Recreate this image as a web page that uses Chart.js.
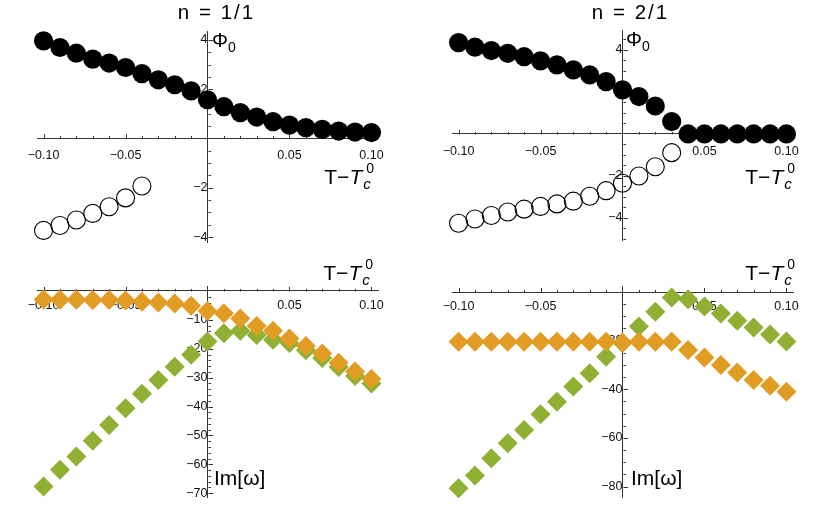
<!DOCTYPE html>
<html><head><meta charset="utf-8">
<script src="https://cdn.jsdelivr.net/npm/chart.js@4.4.1/dist/chart.umd.min.js"></script>
<style>
html,body{margin:0;padding:0;background:#fff;}
#wrap{position:relative;width:830px;height:515px;overflow:hidden;background:#fff;}
#wrap canvas{position:absolute;left:0;top:0;}
</style></head><body>
<div id="wrap">
<canvas id="c1" width="830" height="515"></canvas>
<canvas id="c2" width="830" height="515"></canvas>
<canvas id="c3" width="830" height="515"></canvas>
<canvas id="c4" width="830" height="515"></canvas>
</div>
<script>
// ---------- data ----------
const temps = [-0.10,-0.09,-0.08,-0.07,-0.06,-0.05,-0.04,-0.03,-0.02,-0.01,0,0.01,0.02,0.03,0.04,0.05,0.06,0.07,0.08,0.09,0.10];

// n = 1/1 : order parameter
const phiStableN1 = [3.96,3.69,3.46,3.22,3.06,2.88,2.63,2.38,2.18,1.93,1.57,1.29,1.05,0.87,0.68,0.54,0.44,0.37,0.30,0.26,0.24];
const phiUnstableN1 = [-3.73,-3.53,-3.31,-3.04,-2.77,-2.41,-1.93]; // T = -0.10 .. -0.04

// n = 2/1 : order parameter
const phiStableN2 = [4.35,4.13,3.97,3.84,3.68,3.48,3.29,3.05,2.81,2.49,2.10,1.78,1.33,0.59,0,0,0,0,0,0,0];
const phiUnstableN2 = [-4.25,-4.05,-3.88,-3.72,-3.58,-3.45,-3.33,-3.20,-2.97,-2.70,-2.35,-2.00,-1.56,-0.89]; // T = -0.10 .. 0.03

// n = 1/1 : Im[omega]
const imOrangeN1 = [-2.9,-3.0,-3.0,-3.1,-3.1,-3.3,-3.7,-4.0,-4.3,-5.1,-6.9,-7.7,-9.5,-12.1,-13.8,-16.4,-19.0,-21.6,-24.8,-27.9,-30.5];
const imGreenN1  = [-67.7,-61.9,-57.3,-51.8,-46.4,-40.6,-35.6,-30.8,-26.2,-22.1,-17.5,-14.6,-13.8,-15.2,-16.9,-18.0,-20.5,-23.2,-26.3,-29.4,-32.0];

// n = 2/1 : Im[omega]
const imOrangeN2 = [-20.5,-20.5,-20.5,-20.5,-20.5,-20.5,-20.5,-20.5,-20.5,-20.5,-20.8,-20.5,-20.5,-20.5,-23.8,-26.9,-30.0,-33.1,-36.2,-38.6,-41.0];
const imGreenN2  = [-80.7,-75.5,-68.4,-62.2,-56.7,-50.3,-45.1,-38.9,-33.4,-26.6,-21.0,-14.2,-8.1,-2.3,-3.0,-6.0,-8.8,-11.8,-14.6,-17.5,-20.4];

// tick labels
const xTickLabels = [-0.10,-0.05,0.05,0.10];
const yTicksPhi = [-4,-2,2,4];
const yTicksImN1 = [-70,-60,-50,-40,-30,-20,-10];
const yTicksImN2 = [-80,-60,-40,-20];

const titles = ['n = 1/1','n = 2/1'];

// ---------- helpers ----------
const ORANGE = '#E19C24', GREEN = '#8FB032';
const FONT = '"Liberation Sans", Arial, sans-serif';
const pts = (vals) => vals.map((v,i)=>({x:temps[i], y:v}));
const fmt = (v, d) => (v < 0 ? '\u2212' : '') + Math.abs(v).toFixed(d);

function drawRich(ctx, parts, x, y, align) {
  let cx = 0, maxX = 0, lastStart = 0;
  const placed = [];
  for (const p of parts) {
    ctx.font = (p.it ? 'italic ' : '') + p.s + 'px ' + FONT;
    const w = ctx.measureText(p.t).width;
    let sx = p.stack ? lastStart + (p.dx||0) : cx + (p.dx||0);
    placed.push({p, sx, w});
    if (!p.stack) { lastStart = sx; cx = sx + w; }
    maxX = Math.max(maxX, sx + w);
  }
  const off = align === 'right' ? x - maxX : (align === 'center' ? x - maxX/2 : x);
  ctx.save();
  ctx.fillStyle = '#000';
  ctx.textBaseline = 'alphabetic';
  ctx.textAlign = 'left';
  for (const q of placed) {
    ctx.font = (q.p.it ? 'italic ' : '') + q.p.s + 'px ' + FONT;
    ctx.fillText(q.p.t, off + q.sx, y + (q.p.dy||0));
  }
  ctx.restore();
}

const TT = [{t:'T\u2212',s:21},{t:'T',s:21,it:true},{t:'c',s:15,it:true,dy:5,dx:1},{t:'0',s:14,dy:-11,stack:true,dx:3}];
const PHI = [{t:'\u03A6',s:20},{t:'0',s:14,dy:5,dx:0}];
const IMW = [{t:'Im[\u03C9]',s:21}];

const mmaPlugin = {
  id: 'mma',
  beforeDatasetsDraw(chart, args, o) {
    const ctx = chart.ctx, xs = chart.scales.x, ys = chart.scales.y;
    const x0 = xs.getPixelForValue(0), y0 = ys.getPixelForValue(0);
    ctx.save();
    ctx.strokeStyle = '#333';
    ctx.lineWidth = 1;
    ctx.beginPath();
    const kx = Math.round(o.xMajor / o.xMinor);
    for (let i = Math.ceil(xs.min / o.xMinor - 1e-9); i <= Math.floor(xs.max / o.xMinor + 1e-9); i++) {
      if (i === 0) continue;
      const px = Math.round(xs.getPixelForValue(i * o.xMinor)) + 0.5;
      const len = (i % kx === 0) ? 4.5 : 2.5;
      ctx.moveTo(px, Math.round(y0) + 0.5);
      ctx.lineTo(px, Math.round(y0) + 0.5 - len);
    }
    const ky = Math.round(o.yMajor / o.yMinor);
    for (let i = Math.ceil(ys.min / o.yMinor - 1e-9); i <= Math.floor(ys.max / o.yMinor + 1e-9); i++) {
      if (i === 0) continue;
      const py = Math.round(ys.getPixelForValue(i * o.yMinor)) + 0.5;
      const len = (i % ky === 0) ? 4.5 : 2.5;
      ctx.moveTo(Math.round(x0) + 0.5, py);
      ctx.lineTo(Math.round(x0) + 0.5 + len, py);
    }
    ctx.stroke();
    ctx.restore();
  },
  afterDraw(chart, args, o) {
    const ctx = chart.ctx;
    if (o.title) {
      ctx.save();
      ctx.font = '20.5px ' + FONT;
      ctx.fillStyle = '#000';
      ctx.textAlign = 'center';
      ctx.textBaseline = 'alphabetic';
      try { ctx.letterSpacing = '2px'; } catch(e) {}
      ctx.fillText(o.title, o.titleX, o.titleY);
      ctx.restore();
    }
    for (const l of o.labels) drawRich(ctx, l.parts, l.x, l.y, l.align);
  }
};

function makePanel(id, cfg) {
  const tickFont = {family: FONT, size: 12.5};
  new Chart(document.getElementById(id), {
    type: 'scatter',
    data: { datasets: cfg.datasets },
    options: {
      responsive: false, animation: false, events: [],
      layout: { padding: cfg.pad },
      plugins: {
        legend: {display: false}, tooltip: {enabled: false}, title: {display: false},
        mma: cfg.mma
      },
      scales: {
        x: {
          type: 'linear', min: -0.104, max: 0.104, position: {y: 0},
          grid: {display: true, drawOnChartArea: false, drawTicks: false},
          border: {display: true, color: '#333', width: 1},
          ticks: {padding: cfg.xPad, font: tickFont, color: '#111', maxRotation: 0, autoSkip: false,
                  callback: (v) => fmt(v, 2)},
          afterBuildTicks: (s) => { s.ticks = xTickLabels.map(v => ({value: v})); }
        },
        y: {
          type: 'linear', min: cfg.yMin, max: cfg.yMax, position: {x: 0},
          grid: {display: true, drawOnChartArea: false, drawTicks: false},
          border: {display: true, color: '#333', width: 1},
          ticks: {padding: cfg.yPad, font: tickFont, color: '#111', autoSkip: false,
                  callback: (v) => fmt(v, 0)},
          afterBuildTicks: (s) => { s.ticks = cfg.yTicks.map(v => ({value: v})); }
        }
      }
    },
    plugins: [mmaPlugin]
  });
}

const filled = (vals) => ({data: pts(vals), pointStyle: 'circle', pointRadius: 9.6, backgroundColor: '#000', borderWidth: 0, clip: false});
const hollow = (vals) => ({data: pts(vals), pointStyle: 'circle', pointRadius: 9.0, backgroundColor: 'rgba(0,0,0,0)', borderColor: '#000', borderWidth: 1.1, clip: false});
const diamond = (vals, c) => ({data: pts(vals), pointStyle: 'rectRot', pointRadius: 10.0, backgroundColor: c, borderWidth: 0, clip: false});

// top-left: n = 1/1, Phi0
makePanel('c1', {
  pad: {left: 37, right: 830 - 378, top: 31, bottom: 515 - 242},
  yMin: -4.2, yMax: 4.36, yTicks: yTicksPhi, xPad: 10, yPad: 4,
  datasets: [filled(phiStableN1), hollow(phiUnstableN1)],
  mma: {xMinor: 0.01, xMajor: 0.05, yMinor: 0.5, yMajor: 2,
        title: titles[0], titleX: 216.5, titleY: 19,
        labels: [{parts: PHI, x: 212, y: 47, align: 'left'},
                 {parts: TT, x: 374, y: 184, align: 'right'}]}
});

// top-right: n = 2/1, Phi0
makePanel('c2', {
  pad: {left: 452, right: 830 - 793, top: 30, bottom: 515 - 240},
  yMin: -5.05, yMax: 4.95, yTicks: yTicksPhi, xPad: 10, yPad: 4,
  datasets: [filled(phiStableN2), hollow(phiUnstableN2)],
  mma: {xMinor: 0.01, xMajor: 0.05, yMinor: 0.5, yMajor: 2,
        title: titles[1], titleX: 630.5, titleY: 19,
        labels: [{parts: PHI, x: 626, y: 46, align: 'left'},
                 {parts: TT, x: 795, y: 184, align: 'right'}]}
});

// bottom-left: n = 1/1, Im[omega]
makePanel('c3', {
  pad: {left: 37, right: 830 - 378, top: 286, bottom: 515 - 497},
  yMin: -71.3, yMax: 1.73, yTicks: yTicksImN1, xPad: 7, yPad: 8,
  datasets: [diamond(imOrangeN1, ORANGE), diamond(imGreenN1, GREEN)],
  mma: {xMinor: 0.01, xMajor: 0.05, yMinor: 2, yMajor: 10,
        title: null,
        labels: [{parts: TT, x: 373, y: 280, align: 'right'},
                 {parts: IMW, x: 214, y: 485, align: 'left'}]}
});

// bottom-right: n = 2/1, Im[omega]
makePanel('c4', {
  pad: {left: 452, right: 830 - 793, top: 286, bottom: 515 - 497},
  yMin: -84.3, yMax: 2.47, yTicks: yTicksImN2, xPad: 7, yPad: 8,
  datasets: [diamond(imOrangeN2, ORANGE), diamond(imGreenN2, GREEN)],
  mma: {xMinor: 0.01, xMajor: 0.05, yMinor: 5, yMajor: 20,
        title: null,
        labels: [{parts: TT, x: 795, y: 280, align: 'right'},
                 {parts: IMW, x: 631, y: 485, align: 'left'}]}
});
</script>
</body></html>
